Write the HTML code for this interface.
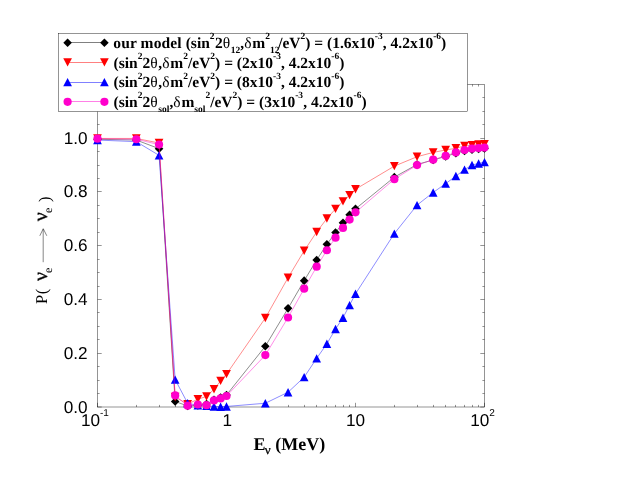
<!DOCTYPE html>
<html><head><meta charset="utf-8"><title>plot</title>
<style>
html,body{margin:0;padding:0;background:#fff;}
body{width:635px;height:491px;overflow:hidden;font-family:"Liberation Sans",sans-serif;}
svg{display:block;will-change:transform;}
text{text-rendering:geometricPrecision;}
.tk{font-family:"Liberation Sans",sans-serif;font-size:17.2px;fill:#000;}
.sup{font-family:"Liberation Sans",sans-serif;font-size:10px;fill:#000;}
.lg{font-family:"Liberation Serif",serif;font-weight:bold;font-size:15.5px;fill:#000;}
.xl{font-family:"Liberation Serif",serif;font-weight:bold;font-size:18px;fill:#000;}
.yl{font-family:"Liberation Serif",serif;font-size:16.5px;fill:#000;}
.nu{font-family:"Liberation Serif",serif;font-size:20px;fill:#000;stroke:#000;stroke-width:0.3px;}
.ysub{font-family:"Liberation Serif",serif;font-size:12px;fill:#000;}
</style></head><body>
<svg width="635" height="491" viewBox="0 0 635 491">
<rect width="635" height="491" fill="#fff"/>

<g stroke="#000" stroke-width="0.42" fill="none">
<rect x="97.5" y="84.4" width="387.00" height="322.60"/>
<path d="M97.5 407.00h4.2"/>
<path d="M484.5 407.00h-4.2"/>
<path d="M97.5 393.50h2.1"/>
<path d="M484.5 393.50h-2.1"/>
<path d="M97.5 380.50h2.1"/>
<path d="M484.5 380.50h-2.1"/>
<path d="M97.5 366.50h2.1"/>
<path d="M484.5 366.50h-2.1"/>
<path d="M97.5 353.50h4.2"/>
<path d="M484.5 353.50h-4.2"/>
<path d="M97.5 339.50h2.1"/>
<path d="M484.5 339.50h-2.1"/>
<path d="M97.5 326.50h2.1"/>
<path d="M484.5 326.50h-2.1"/>
<path d="M97.5 312.50h2.1"/>
<path d="M484.5 312.50h-2.1"/>
<path d="M97.5 299.50h4.2"/>
<path d="M484.5 299.50h-4.2"/>
<path d="M97.5 286.50h2.1"/>
<path d="M484.5 286.50h-2.1"/>
<path d="M97.5 272.50h2.1"/>
<path d="M484.5 272.50h-2.1"/>
<path d="M97.5 259.50h2.1"/>
<path d="M484.5 259.50h-2.1"/>
<path d="M97.5 245.50h4.2"/>
<path d="M484.5 245.50h-4.2"/>
<path d="M97.5 232.50h2.1"/>
<path d="M484.5 232.50h-2.1"/>
<path d="M97.5 218.50h2.1"/>
<path d="M484.5 218.50h-2.1"/>
<path d="M97.5 205.50h2.1"/>
<path d="M484.5 205.50h-2.1"/>
<path d="M97.5 191.50h4.2"/>
<path d="M484.5 191.50h-4.2"/>
<path d="M97.5 178.50h2.1"/>
<path d="M484.5 178.50h-2.1"/>
<path d="M97.5 165.50h2.1"/>
<path d="M484.5 165.50h-2.1"/>
<path d="M97.5 151.50h2.1"/>
<path d="M484.5 151.50h-2.1"/>
<path d="M97.5 138.50h4.2"/>
<path d="M484.5 138.50h-4.2"/>
<path d="M97.5 124.50h2.1"/>
<path d="M484.5 124.50h-2.1"/>
<path d="M484.5 111.50h-2.1"/>
<path d="M97.5 97.50h2.1"/>
<path d="M484.5 97.50h-2.1"/>
<path d="M97.50 407.0v-4.2M97.50 84.4v4.2"/>
<path d="M136.50 407.0v-2.1M136.50 84.4v2.1"/>
<path d="M159.50 407.0v-2.1M159.50 84.4v2.1"/>
<path d="M175.50 407.0v-2.1M175.50 84.4v2.1"/>
<path d="M187.50 407.0v-2.1M187.50 84.4v2.1"/>
<path d="M197.50 407.0v-2.1M197.50 84.4v2.1"/>
<path d="M206.50 407.0v-2.1M206.50 84.4v2.1"/>
<path d="M214.50 407.0v-2.1M214.50 84.4v2.1"/>
<path d="M220.50 407.0v-2.1M220.50 84.4v2.1"/>
<path d="M226.50 407.0v-4.2M226.50 84.4v4.2"/>
<path d="M265.50 407.0v-2.1M265.50 84.4v2.1"/>
<path d="M288.50 407.0v-2.1M288.50 84.4v2.1"/>
<path d="M304.50 407.0v-2.1M304.50 84.4v2.1"/>
<path d="M316.50 407.0v-2.1M316.50 84.4v2.1"/>
<path d="M326.50 407.0v-2.1M326.50 84.4v2.1"/>
<path d="M335.50 407.0v-2.1M335.50 84.4v2.1"/>
<path d="M343.50 407.0v-2.1M343.50 84.4v2.1"/>
<path d="M349.50 407.0v-2.1M349.50 84.4v2.1"/>
<path d="M355.50 407.0v-4.2M355.50 84.4v4.2"/>
<path d="M394.50 407.0v-2.1M394.50 84.4v2.1"/>
<path d="M417.50 407.0v-2.1M417.50 84.4v2.1"/>
<path d="M433.50 407.0v-2.1M433.50 84.4v2.1"/>
<path d="M445.50 407.0v-2.1M445.50 84.4v2.1"/>
<path d="M455.50 407.0v-2.1M455.50 84.4v2.1"/>
<path d="M464.50 407.0v-2.1M464.50 84.4v2.1"/>
<path d="M472.50 407.0v-2.1M472.50 84.4v2.1"/>
<path d="M478.50 407.0v-2.1M478.50 84.4v2.1"/>
<path d="M484.50 407.0v-4.2"/>
</g>

<text class="tk" x="87.7" y="412.50" text-anchor="end">0.0</text>
<text class="tk" x="87.7" y="358.73" text-anchor="end">0.2</text>
<text class="tk" x="87.7" y="304.97" text-anchor="end">0.4</text>
<text class="tk" x="87.7" y="251.20" text-anchor="end">0.6</text>
<text class="tk" x="87.7" y="197.43" text-anchor="end">0.8</text>
<text class="tk" x="87.7" y="143.67" text-anchor="end">1.0</text>
<text class="tk" x="80.9" y="426.4">10<tspan class="sup" dy="-10.1">-1</tspan></text>
<text class="tk" x="227.4" y="426.4" text-anchor="middle">1</text>
<text class="tk" x="355.6" y="426.4" text-anchor="middle">10</text>
<text class="tk" x="470.2" y="426.4">10<tspan class="sup" dy="-10.1">2</tspan></text>
<polyline points="97.50,139.24 136.33,140.05 159.05,148.65 175.17,401.52 187.67,405.92 197.88,405.49 206.52,404.04 214.00,399.74 220.60,397.59 226.50,395.01 265.33,346.24 288.05,308.34 304.17,280.65 316.67,259.95 326.88,244.36 335.52,232.53 343.00,222.85 349.60,214.78 355.50,208.87 394.33,177.15 417.05,164.51 433.17,159.94 445.67,156.45 455.88,153.22 464.52,151.07 472.00,149.73 478.60,148.92 484.50,148.38" fill="none" stroke="#000" stroke-width="0.45"/>
<g fill="#000"><path d="M97.50 134.94L101.80 139.24L97.50 143.54L93.20 139.24Z"/><path d="M136.33 135.75L140.63 140.05L136.33 144.35L132.03 140.05Z"/><path d="M159.05 144.35L163.35 148.65L159.05 152.95L154.75 148.65Z"/><path d="M175.17 397.22L179.47 401.52L175.17 405.82L170.87 401.52Z"/><path d="M187.67 401.62L191.97 405.92L187.67 410.22L183.37 405.92Z"/><path d="M197.88 401.19L202.18 405.49L197.88 409.79L193.58 405.49Z"/><path d="M206.52 399.74L210.82 404.04L206.52 408.34L202.22 404.04Z"/><path d="M214.00 395.44L218.30 399.74L214.00 404.04L209.70 399.74Z"/><path d="M220.60 393.29L224.90 397.59L220.60 401.89L216.30 397.59Z"/><path d="M226.50 390.71L230.80 395.01L226.50 399.31L222.20 395.01Z"/><path d="M265.33 341.94L269.63 346.24L265.33 350.54L261.03 346.24Z"/><path d="M288.05 304.04L292.35 308.34L288.05 312.64L283.75 308.34Z"/><path d="M304.17 276.35L308.47 280.65L304.17 284.95L299.87 280.65Z"/><path d="M316.67 255.65L320.97 259.95L316.67 264.25L312.37 259.95Z"/><path d="M326.88 240.06L331.18 244.36L326.88 248.66L322.58 244.36Z"/><path d="M335.52 228.23L339.82 232.53L335.52 236.83L331.22 232.53Z"/><path d="M343.00 218.55L347.30 222.85L343.00 227.15L338.70 222.85Z"/><path d="M349.60 210.48L353.90 214.78L349.60 219.08L345.30 214.78Z"/><path d="M355.50 204.57L359.80 208.87L355.50 213.17L351.20 208.87Z"/><path d="M394.33 172.85L398.63 177.15L394.33 181.45L390.03 177.15Z"/><path d="M417.05 160.21L421.35 164.51L417.05 168.81L412.75 164.51Z"/><path d="M433.17 155.64L437.47 159.94L433.17 164.24L428.87 159.94Z"/><path d="M445.67 152.15L449.97 156.45L445.67 160.75L441.37 156.45Z"/><path d="M455.88 148.92L460.18 153.22L455.88 157.52L451.58 153.22Z"/><path d="M464.52 146.77L468.82 151.07L464.52 155.37L460.22 151.07Z"/><path d="M472.00 145.43L476.30 149.73L472.00 154.03L467.70 149.73Z"/><path d="M478.60 144.62L482.90 148.92L478.60 153.22L474.30 148.92Z"/><path d="M484.50 144.08L488.80 148.38L484.50 152.68L480.20 148.38Z"/></g>

<polyline points="97.50,138.44 136.33,138.44 159.05,143.01 175.17,397.05 187.67,404.20 197.88,399.10 206.52,396.52 214.00,389.26 220.60,380.92 226.50,374.09 265.33,318.02 288.05,277.69 304.17,250.81 316.67,231.99 326.88,218.55 335.52,208.87 343.00,201.34 349.60,195.16 355.50,189.24 394.33,166.13 417.05,156.72 433.17,152.41 445.67,150.00 455.88,148.25 464.52,145.96 472.00,145.16 478.60,144.48 484.50,144.08" fill="none" stroke="#f00" stroke-width="0.45"/>
<g fill="#f00"><path d="M93.15 134.24L101.85 134.24L97.50 142.64Z"/><path d="M131.98 134.24L140.68 134.24L136.33 142.64Z"/><path d="M154.70 138.81L163.40 138.81L159.05 147.21Z"/><path d="M170.82 392.85L179.52 392.85L175.17 401.25Z"/><path d="M183.32 400.00L192.02 400.00L187.67 408.40Z"/><path d="M193.53 394.90L202.23 394.90L197.88 403.30Z"/><path d="M202.17 392.32L210.87 392.32L206.52 400.72Z"/><path d="M209.65 385.06L218.35 385.06L214.00 393.46Z"/><path d="M216.25 376.72L224.95 376.72L220.60 385.12Z"/><path d="M222.15 369.89L230.85 369.89L226.50 378.29Z"/><path d="M260.98 313.82L269.68 313.82L265.33 322.22Z"/><path d="M283.70 273.49L292.40 273.49L288.05 281.89Z"/><path d="M299.82 246.61L308.52 246.61L304.17 255.01Z"/><path d="M312.32 227.79L321.02 227.79L316.67 236.19Z"/><path d="M322.53 214.35L331.23 214.35L326.88 222.75Z"/><path d="M331.17 204.67L339.87 204.67L335.52 213.07Z"/><path d="M338.65 197.14L347.35 197.14L343.00 205.54Z"/><path d="M345.25 190.96L353.95 190.96L349.60 199.36Z"/><path d="M351.15 185.04L359.85 185.04L355.50 193.44Z"/><path d="M389.98 161.93L398.68 161.93L394.33 170.33Z"/><path d="M412.70 152.52L421.40 152.52L417.05 160.92Z"/><path d="M428.82 148.21L437.52 148.21L433.17 156.61Z"/><path d="M441.32 145.80L450.02 145.80L445.67 154.20Z"/><path d="M451.53 144.05L460.23 144.05L455.88 152.45Z"/><path d="M460.17 141.76L468.87 141.76L464.52 150.16Z"/><path d="M467.65 140.96L476.35 140.96L472.00 149.36Z"/><path d="M474.25 140.28L482.95 140.28L478.60 148.68Z"/><path d="M480.15 139.88L488.85 139.88L484.50 148.28Z"/></g>

<polyline points="97.50,140.05 136.33,141.66 159.05,155.37 175.17,379.58 187.67,403.24 197.88,405.39 206.52,405.92 214.00,406.46 220.60,406.73 226.50,406.46 265.33,403.24 288.05,392.21 304.17,377.16 316.67,358.34 326.88,343.82 335.52,329.04 343.00,317.75 349.60,305.11 355.50,293.82 394.33,233.60 417.05,205.11 433.17,192.47 445.67,183.60 455.88,176.07 464.52,169.62 472.00,165.05 478.60,163.44 484.50,162.09" fill="none" stroke="#00f" stroke-width="0.45"/>
<g fill="#00f"><path d="M93.15 144.25L101.85 144.25L97.50 135.85Z"/><path d="M131.98 145.86L140.68 145.86L136.33 137.46Z"/><path d="M154.70 159.57L163.40 159.57L159.05 151.17Z"/><path d="M170.82 383.78L179.52 383.78L175.17 375.38Z"/><path d="M183.32 407.44L192.02 407.44L187.67 399.04Z"/><path d="M193.53 409.59L202.23 409.59L197.88 401.19Z"/><path d="M202.17 410.12L210.87 410.12L206.52 401.72Z"/><path d="M209.65 410.66L218.35 410.66L214.00 402.26Z"/><path d="M216.25 410.93L224.95 410.93L220.60 402.53Z"/><path d="M222.15 410.66L230.85 410.66L226.50 402.26Z"/><path d="M260.98 407.44L269.68 407.44L265.33 399.04Z"/><path d="M283.70 396.41L292.40 396.41L288.05 388.01Z"/><path d="M299.82 381.36L308.52 381.36L304.17 372.96Z"/><path d="M312.32 362.54L321.02 362.54L316.67 354.14Z"/><path d="M322.53 348.02L331.23 348.02L326.88 339.62Z"/><path d="M331.17 333.24L339.87 333.24L335.52 324.84Z"/><path d="M338.65 321.95L347.35 321.95L343.00 313.55Z"/><path d="M345.25 309.31L353.95 309.31L349.60 300.91Z"/><path d="M351.15 298.02L359.85 298.02L355.50 289.62Z"/><path d="M389.98 237.80L398.68 237.80L394.33 229.40Z"/><path d="M412.70 209.31L421.40 209.31L417.05 200.91Z"/><path d="M428.82 196.67L437.52 196.67L433.17 188.27Z"/><path d="M441.32 187.80L450.02 187.80L445.67 179.40Z"/><path d="M451.53 180.27L460.23 180.27L455.88 171.87Z"/><path d="M460.17 173.82L468.87 173.82L464.52 165.42Z"/><path d="M467.65 169.25L476.35 169.25L472.00 160.85Z"/><path d="M474.25 167.64L482.95 167.64L478.60 159.24Z"/><path d="M480.15 166.29L488.85 166.29L484.50 157.89Z"/></g>

<polyline points="97.50,138.70 136.33,139.24 159.05,144.62 175.17,395.44 187.67,405.71 197.88,404.50 206.52,405.20 214.00,400.41 220.60,398.40 226.50,395.98 265.33,355.12 288.05,317.48 304.17,288.71 316.67,266.67 326.88,250.27 335.52,237.63 343.00,227.96 349.60,219.62 355.50,212.36 394.33,179.16 417.05,165.05 433.17,159.67 445.67,155.91 455.88,152.41 464.52,150.00 472.00,148.65 478.60,148.11 484.50,147.58" fill="none" stroke="#ff00cc" stroke-width="0.45"/>
<g fill="#ff00cc"><circle cx="97.50" cy="138.70" r="4.1"/><circle cx="136.33" cy="139.24" r="4.1"/><circle cx="159.05" cy="144.62" r="4.1"/><circle cx="175.17" cy="395.44" r="4.1"/><circle cx="187.67" cy="405.71" r="4.1"/><circle cx="197.88" cy="404.50" r="4.1"/><circle cx="206.52" cy="405.20" r="4.1"/><circle cx="214.00" cy="400.41" r="4.1"/><circle cx="220.60" cy="398.40" r="4.1"/><circle cx="226.50" cy="395.98" r="4.1"/><circle cx="265.33" cy="355.12" r="4.1"/><circle cx="288.05" cy="317.48" r="4.1"/><circle cx="304.17" cy="288.71" r="4.1"/><circle cx="316.67" cy="266.67" r="4.1"/><circle cx="326.88" cy="250.27" r="4.1"/><circle cx="335.52" cy="237.63" r="4.1"/><circle cx="343.00" cy="227.96" r="4.1"/><circle cx="349.60" cy="219.62" r="4.1"/><circle cx="355.50" cy="212.36" r="4.1"/><circle cx="394.33" cy="179.16" r="4.1"/><circle cx="417.05" cy="165.05" r="4.1"/><circle cx="433.17" cy="159.67" r="4.1"/><circle cx="445.67" cy="155.91" r="4.1"/><circle cx="455.88" cy="152.41" r="4.1"/><circle cx="464.52" cy="150.00" r="4.1"/><circle cx="472.00" cy="148.65" r="4.1"/><circle cx="478.60" cy="148.11" r="4.1"/><circle cx="484.50" cy="147.58" r="4.1"/></g>

<rect x="58.5" y="33.3" width="409" height="78.3" fill="#fff" stroke="#000" stroke-width="0.42"/>
<path d="M67.6 42.5H104.4" stroke="#000" stroke-width="0.5"/><g fill="#000"><path d="M67.60 38.40L71.90 42.70L67.60 47.00L63.30 42.70Z"/><path d="M104.40 38.40L108.70 42.70L104.40 47.00L100.10 42.70Z"/></g>
<path d="M67.6 62.5H104.4" stroke="#f00" stroke-width="0.5"/><g fill="#f00"><path d="M63.25 58.20L71.95 58.20L67.60 66.60Z"/><path d="M100.05 58.20L108.75 58.20L104.40 66.60Z"/></g>
<path d="M67.6 82.5H104.4" stroke="#00f" stroke-width="0.5"/><g fill="#00f"><path d="M63.25 86.30L71.95 86.30L67.60 77.90Z"/><path d="M100.05 86.30L108.75 86.30L104.40 77.90Z"/></g>
<path d="M67.6 101.5H104.4" stroke="#ff00cc" stroke-width="0.5"/><g fill="#ff00cc"><circle cx="67.60" cy="101.80" r="4.1"/><circle cx="104.40" cy="101.80" r="4.1"/></g>
<text class="lg" x="113.3" y="48.0"><tspan letter-spacing="0.12">our model </tspan>(sin<tspan font-size="9.5px" dy="-8.6">2</tspan><tspan dy="8.6">&#8203;</tspan><tspan dx="0.4">2</tspan><tspan font-weight="normal">θ</tspan><tspan dx="0.65">&#8203;</tspan><tspan font-size="9.5px" dy="4.6">12</tspan><tspan dy="-4.6">&#8203;</tspan>,<tspan font-weight="normal">δ</tspan><tspan dx="0.8">&#8203;</tspan>m<tspan font-size="9.5px" dy="-8.6">2</tspan><tspan dy="8.6">&#8203;</tspan><tspan font-size="9.5px" dy="4.6">12</tspan><tspan dy="-4.6">&#8203;</tspan><tspan dx="-1.3">/</tspan>eV<tspan font-size="9.5px" dy="-8.6">2</tspan><tspan dy="8.6">&#8203;</tspan>) = (1.6x10<tspan font-size="9.5px" dy="-8.6">-3</tspan><tspan dy="8.6">&#8203;</tspan>, 4.2x10<tspan font-size="9.5px" dy="-8.6">-6</tspan><tspan dy="8.6">&#8203;</tspan>)</text>
<text class="lg" x="113.6" y="67.7">(sin<tspan font-size="9.5px" dy="-8.6">2</tspan><tspan dy="8.6">&#8203;</tspan>2<tspan font-weight="normal">θ</tspan><tspan dx="0.65">&#8203;</tspan>,<tspan font-weight="normal">δ</tspan><tspan dx="0.8">&#8203;</tspan>m<tspan font-size="9.5px" dy="-8.6">2</tspan><tspan dy="8.6">&#8203;</tspan>/eV<tspan font-size="9.5px" dy="-8.6">2</tspan><tspan dy="8.6">&#8203;</tspan>) = (2x10<tspan font-size="9.5px" dy="-8.6">-3</tspan><tspan dy="8.6">&#8203;</tspan>, 4.2x10<tspan font-size="9.5px" dy="-8.6">-6</tspan><tspan dy="8.6">&#8203;</tspan>)</text>
<text class="lg" x="113.6" y="87.4">(sin<tspan font-size="9.5px" dy="-8.6">2</tspan><tspan dy="8.6">&#8203;</tspan>2<tspan font-weight="normal">θ</tspan><tspan dx="0.65">&#8203;</tspan>,<tspan font-weight="normal">δ</tspan><tspan dx="0.8">&#8203;</tspan>m<tspan font-size="9.5px" dy="-8.6">2</tspan><tspan dy="8.6">&#8203;</tspan>/eV<tspan font-size="9.5px" dy="-8.6">2</tspan><tspan dy="8.6">&#8203;</tspan>) = (8x10<tspan font-size="9.5px" dy="-8.6">-3</tspan><tspan dy="8.6">&#8203;</tspan>, 4.2x10<tspan font-size="9.5px" dy="-8.6">-6</tspan><tspan dy="8.6">&#8203;</tspan>)</text>
<text class="lg" x="113.6" y="107.0">(sin<tspan font-size="9.5px" dy="-8.6">2</tspan><tspan dy="8.6">&#8203;</tspan>2<tspan font-weight="normal">θ</tspan><tspan dx="0.65">&#8203;</tspan><tspan font-size="9.5px" dy="4.6">sol</tspan><tspan dy="-4.6">&#8203;</tspan>,<tspan font-weight="normal">δ</tspan><tspan dx="0.8">&#8203;</tspan>m<tspan font-size="9.5px" dy="4.6">sol</tspan><tspan dy="-4.6">&#8203;</tspan><tspan font-size="9.5px" dy="-8.6">2</tspan><tspan dy="8.6">&#8203;</tspan>/eV<tspan font-size="9.5px" dy="-8.6">2</tspan><tspan dy="8.6">&#8203;</tspan>) = (3x10<tspan font-size="9.5px" dy="-8.6">-3</tspan><tspan dy="8.6">&#8203;</tspan>, 4.2x10<tspan font-size="9.5px" dy="-8.6">-6</tspan><tspan dy="8.6">&#8203;</tspan>)</text>
<text class="xl" x="253.6" y="449.5">E</text><text x="264.8" y="454.1" style="font-family:'Liberation Serif',serif;font-size:13px;stroke:#000;stroke-width:0.3px">ν</text><text class="xl" x="275.3" y="449.5">(MeV)</text>
<g transform="translate(46.6,0) rotate(-90)">
<text class="yl" x="-304.1" y="0">P</text><text class="yl" x="-294.3" y="0">(</text>
<text class="nu" x="-281.0" y="0">ν</text><text class="ysub" x="-272.9" y="5.5">e</text>
<text class="nu" x="-221.2" y="0">ν</text><text class="ysub" x="-213.1" y="5.5">e</text>
<text class="yl" x="-201.9" y="3.2">)</text>
</g>
<g stroke="#222" stroke-width="0.55" fill="none"><path d="M43.2 262.2V229"/><path d="M39.8 235.8L43.25 228.7L46.8 235.8"/></g>
</svg></body></html>
